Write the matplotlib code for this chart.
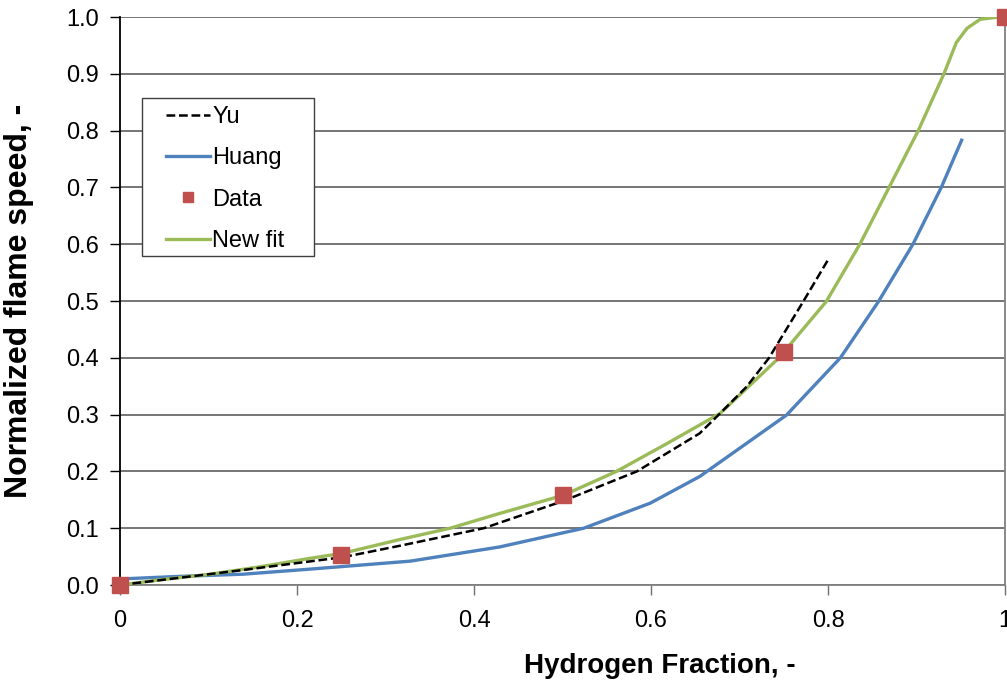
import matplotlib
matplotlib.use("Agg")
import matplotlib.pyplot as plt
from matplotlib.patches import Rectangle

plt.rcParams['font.family'] = ['Liberation Sans', 'DejaVu Sans']

# Yu correlation (dashed)
yu_x = [0.0, 0.132, 0.252, 0.316, 0.411, 0.501, 0.584, 0.655, 0.678, 0.708, 0.733, 0.772, 0.801]
yu_y = [0.0, 0.025, 0.049, 0.069, 0.100, 0.148, 0.200, 0.267, 0.302, 0.349, 0.399, 0.499, 0.575]

# Huang correlation
huang_x = [0.0, 0.064, 0.139, 0.215, 0.328, 0.429, 0.524, 0.599, 0.655, 0.753, 0.814, 0.857, 0.896, 0.928, 0.951]
huang_y = [0.0106, 0.015, 0.019, 0.028, 0.042, 0.067, 0.100, 0.144, 0.191, 0.299, 0.400, 0.499, 0.600, 0.700, 0.783]

# measured points
data_x = [0.0, 0.25, 0.5, 0.75, 1.0]
data_y = [0.0, 0.052, 0.158, 0.41, 1.0]

# new fit
fit_x = [0.0, 0.045, 0.102, 0.158, 0.215, 0.252, 0.316, 0.373, 0.429, 0.501, 0.561, 0.618, 0.678,
         0.744, 0.798, 0.836, 0.869, 0.902, 0.931, 0.945, 0.957, 0.972, 0.994, 1.0]
fit_y = [0.0, 0.009, 0.019, 0.032, 0.047, 0.056, 0.080, 0.100, 0.126, 0.158, 0.200, 0.249, 0.302,
         0.399, 0.499, 0.600, 0.700, 0.800, 0.900, 0.955, 0.980, 0.996, 1.0, 1.0]

W, H = 1007, 681
fig = plt.figure(figsize=(W / 100, H / 100), dpi=100)
ax = fig.add_axes([120 / W, 96 / H, 885 / W, 568 / H])

ax.plot(yu_x, yu_y, color='black', linestyle=(0, (3.5, 1.5)), linewidth=1.8, label='Yu', zorder=4)
ax.plot(huang_x, huang_y, color='#4F81BD', linewidth=2.4, label='Huang', zorder=3,
        solid_joinstyle='round')
ax.plot(data_x, data_y, linestyle='none', marker='s', markersize=11, color='#C0504D',
        label='Data', zorder=5, clip_on=False)
ax.plot(fit_x, fit_y, color='#9BBB59', linewidth=2.4, label='New fit', zorder=3,
        solid_joinstyle='round')

ax.set_xlim(0, 1)
ax.set_ylim(0, 1)
ax.set_xticks([0, 0.2, 0.4, 0.6, 0.8, 1.0])
ax.set_xticklabels(['0', '0.2', '0.4', '0.6', '0.8', '1'])
ax.set_yticks([i / 10 for i in range(11)])
ax.set_yticklabels(['%.1f' % (i / 10) for i in range(11)])
ax.tick_params(axis='both', labelsize=17, direction='out', length=7, width=1, pad=8)
ax.tick_params(axis='x', color='#707070', pad=11)
ax.grid(axis='y', color='#505050', linewidth=1.1)
ax.set_axisbelow(True)

ax.spines['left'].set_color('black')
ax.spines['bottom'].set_color('#808080')
ax.spines['right'].set_color('#808080')
ax.spines['top'].set_visible(False)
for s in ax.spines.values():
    s.set_linewidth(1.3)

ax.set_xlabel('Hydrogen Fraction, -', fontsize=20, fontweight='bold')
ax.xaxis.set_label_coords(0.61, -0.12)
ax.set_ylabel('Normalized flame speed, -', fontsize=23, fontweight='bold')
ax.yaxis.set_label_coords(-0.097, 0.5)

# legend box
fig.patches.append(Rectangle((142 / W, 1 - 256 / H), 172 / W, 158 / H, transform=fig.transFigure,
                             facecolor='white', edgecolor='#404040', linewidth=1, zorder=6))
leg = fig.legend(loc='upper left', bbox_to_anchor=(166 / W, 1 - 106 / H), fontsize=17, frameon=False,
                 handlelength=1.85, handletextpad=0.1, labelspacing=0.82, borderpad=0,
                 borderaxespad=0, markerscale=0.7)
leg.set_zorder(7)

fig.savefig('out.png', dpi=100)
